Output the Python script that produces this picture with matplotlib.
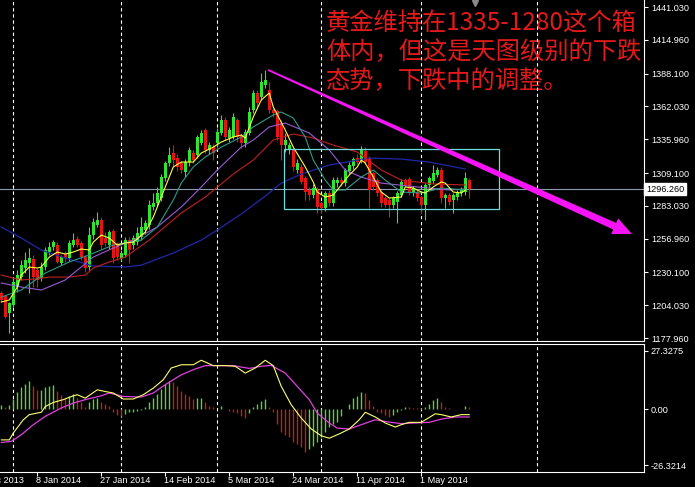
import numpy as np
import matplotlib
matplotlib.use("Agg")
import matplotlib.pyplot as plt
from matplotlib.patches import Rectangle, Polygon
from matplotlib.transforms import IdentityTransform

plt.rcParams['font.family'] = ['Liberation Sans', 'DejaVu Sans']

# daily gold bars (Sunday bars included), bar 0 = 29 Dec 2013, bar 117 = 15 May 2014
open_ = [1213.7, 1211.3, 1197.8, 1204.1, 1218.4, 1226.4, 1233.6, 1237.5, 1240.7, 1232.0,
         1225.6, 1234.4, 1246.3, 1250.2, 1251.8, 1237.5, 1244.7, 1241.5, 1251.8, 1256.6,
         1253.4, 1242.3, 1234.4, 1259.8, 1267.7, 1271.7, 1257.4, 1251.8, 1263.0, 1251.8,
         1241.5, 1243.9, 1255.8, 1251.8, 1254.2, 1258.2, 1263.8, 1267.7, 1282.0, 1285.3,
         1289.2, 1305.1, 1317.0, 1325.0, 1321.0, 1317.0, 1309.9, 1317.8, 1325.0, 1323.4,
         1332.9, 1343.3, 1327.4, 1329.7, 1332.9, 1340.9, 1351.2, 1336.9, 1337.7, 1351.2,
         1339.3, 1332.9, 1340.9, 1359.2, 1372.7, 1369.5, 1379.0, 1375.1, 1359.2, 1358.4,
         1348.8, 1331.3, 1327.0, 1327.4, 1311.5, 1313.9, 1305.1, 1295.6, 1291.6, 1295.6,
         1285.3, 1281.3, 1293.2, 1285.3, 1301.1, 1303.5, 1301.1, 1310.7, 1314.6, 1321.0,
         1319.4, 1326.6, 1321.0, 1309.1, 1303.5, 1294.0, 1289.2, 1287.6, 1283.6, 1286.0,
         1291.6, 1303.5, 1304.3, 1293.2, 1294.0, 1290.0, 1283.6, 1299.5, 1302.7, 1307.5,
         1311.5, 1289.2, 1291.6, 1287.6, 1290.0, 1293.2, 1294.0, 1303.5]
high_ = [1215.3, 1212.0, 1206.5, 1226.4, 1232.0, 1239.9, 1246.0, 1249.4, 1243.9, 1234.0,
         1238.0, 1250.2, 1254.0, 1256.0, 1254.0, 1244.0, 1247.0, 1256.2, 1261.4, 1259.0,
         1255.0, 1244.0, 1266.2, 1273.3, 1278.1, 1274.0, 1262.0, 1263.8, 1265.0, 1254.0,
         1248.0, 1258.0, 1258.0, 1260.0, 1266.2, 1274.0, 1272.0, 1287.6, 1293.0, 1298.0,
         1308.0, 1319.0, 1329.7, 1331.3, 1324.0, 1319.0, 1320.0, 1330.0, 1327.0, 1339.3,
         1343.3, 1344.9, 1334.0, 1332.0, 1345.0, 1355.2, 1354.0, 1346.0, 1356.8, 1352.8,
         1341.0, 1344.0, 1361.6, 1375.1, 1375.0, 1388.6, 1391.0, 1381.4, 1361.0, 1360.0,
         1351.0, 1341.0, 1334.0, 1329.0, 1320.0, 1316.0, 1307.0, 1298.0, 1300.0, 1298.0,
         1287.0, 1295.0, 1296.0, 1305.9, 1306.0, 1306.0, 1313.0, 1318.0, 1322.0, 1324.0,
         1330.5, 1329.7, 1323.0, 1311.0, 1305.0, 1296.0, 1291.0, 1289.0, 1291.0, 1295.0,
         1304.0, 1305.0, 1306.0, 1299.0, 1296.0, 1292.0, 1301.0, 1307.0, 1315.4, 1313.9,
         1314.0, 1293.0, 1293.0, 1293.0, 1296.0, 1298.0, 1309.9, 1305.0]
low_ = [1206.5, 1193.8, 1181.9, 1203.0, 1214.5, 1224.0, 1229.6, 1213.7, 1218.4, 1218.4,
        1223.0, 1232.0, 1244.0, 1248.0, 1237.5, 1236.0, 1238.0, 1239.0, 1250.0, 1250.0,
        1240.0, 1230.4, 1232.0, 1257.0, 1266.0, 1249.0, 1251.0, 1249.0, 1237.5, 1240.0,
        1239.0, 1242.0, 1237.5, 1249.0, 1252.0, 1256.0, 1261.0, 1265.0, 1280.0, 1283.0,
        1287.0, 1303.0, 1315.0, 1313.9, 1311.0, 1309.0, 1305.9, 1315.0, 1317.0, 1321.0,
        1331.0, 1325.0, 1324.0, 1319.4, 1330.0, 1339.0, 1335.0, 1334.0, 1336.0, 1333.7,
        1329.0, 1330.0, 1339.0, 1357.0, 1361.6, 1367.0, 1377.0, 1357.0, 1354.0, 1335.0,
        1319.4, 1325.8, 1324.0, 1311.0, 1309.0, 1300.0, 1287.6, 1287.6, 1289.0, 1277.3,
        1277.3, 1279.0, 1283.0, 1283.0, 1298.0, 1299.0, 1299.0, 1308.0, 1312.0, 1316.0,
        1317.0, 1316.0, 1281.3, 1296.0, 1291.0, 1282.0, 1282.0, 1274.1, 1281.0, 1269.4,
        1290.0, 1298.0, 1292.0, 1291.0, 1287.0, 1277.3, 1271.7, 1297.0, 1301.0, 1306.0,
        1285.3, 1281.3, 1284.0, 1277.3, 1288.0, 1291.0, 1292.0, 1289.2]
close_ = [1208.1, 1194.6, 1205.7, 1222.4, 1228.0, 1235.9, 1239.9, 1241.5, 1226.4, 1224.0,
          1234.4, 1247.9, 1250.2, 1254.2, 1238.3, 1242.3, 1241.5, 1253.4, 1255.8, 1251.8,
          1242.3, 1233.6, 1259.8, 1270.1, 1271.7, 1251.8, 1253.4, 1262.2, 1241.5, 1242.3,
          1245.5, 1255.8, 1247.9, 1257.4, 1261.4, 1266.2, 1269.3, 1283.6, 1285.0, 1293.2,
          1305.9, 1317.0, 1323.4, 1319.4, 1313.9, 1311.5, 1317.8, 1327.4, 1319.4, 1337.7,
          1340.9, 1327.4, 1331.3, 1325.0, 1341.7, 1351.2, 1337.7, 1343.3, 1353.6, 1337.7,
          1332.9, 1341.7, 1357.6, 1372.7, 1364.7, 1381.4, 1383.0, 1359.2, 1356.8, 1337.7,
          1331.3, 1335.3, 1331.0, 1313.9, 1317.0, 1301.9, 1294.0, 1291.6, 1297.2, 1282.0,
          1281.3, 1293.2, 1285.3, 1303.5, 1303.5, 1301.1, 1311.5, 1315.4, 1320.2, 1317.8,
          1327.4, 1317.8, 1295.6, 1298.0, 1293.2, 1285.3, 1283.6, 1283.6, 1289.2, 1293.2,
          1301.9, 1299.5, 1294.0, 1297.2, 1289.2, 1283.6, 1299.5, 1305.1, 1309.1, 1311.5,
          1289.2, 1291.6, 1286.0, 1291.6, 1294.0, 1295.6, 1305.1, 1296.26]

# moving averages at a few bars
ma_fast_k = [0, 2, 4, 5, 7, 9, 10, 12, 14, 16, 18, 20, 22, 23, 25, 27, 29, 31, 33, 36, 38, 41,
             43, 45, 48, 50, 53, 55, 58, 60, 61, 63, 65, 67, 68, 71, 73, 76, 78, 79, 81, 83,
             85, 87, 89, 90, 91, 93, 95, 97, 100, 101, 103, 105, 106, 108, 110, 111, 113, 115, 116]
ma_fast = [1206.6, 1208.2, 1218.5, 1228.0, 1234.4, 1233.6, 1234.4, 1242.3, 1246.3, 1244.7,
           1246.3, 1248.7, 1247.9, 1254.2, 1259.8, 1257.4, 1251.9, 1253.5, 1254.2, 1262.2,
           1274.1, 1298.0, 1313.9, 1317.8, 1317.8, 1325.0, 1329.7, 1333.7, 1337.7, 1339.3,
           1336.9, 1353.6, 1367.1, 1372.7, 1361.6, 1343.3, 1329.7, 1313.9, 1301.9, 1294.0,
           1290.0, 1291.6, 1299.6, 1307.5, 1313.9, 1319.4, 1317.0, 1305.9, 1294.0, 1289.2,
           1290.0, 1298.0, 1297.2, 1294.0, 1293.2, 1298.0, 1302.0, 1301.1, 1294.0, 1293.2, 1295.6]
ma_teal_k = [0, 5, 11, 17, 22, 28, 35, 39, 43, 45, 48, 51, 55, 60, 63, 68, 70, 73, 76, 78,
             81, 83, 86, 90, 93, 96, 100, 105, 110, 116]
ma_teal = [1210.5, 1216.1, 1229.6, 1238.4, 1244.0, 1251.9, 1255.8, 1266.2, 1287.6, 1301.1,
           1313.9, 1321.8, 1329.7, 1337.7, 1345.7, 1355.2, 1357.6, 1352.8, 1337.7, 1319.4,
           1303.5, 1295.6, 1295.6, 1305.9, 1311.5, 1303.5, 1294.0, 1293.2, 1297.2, 1295.6]
ma_purple_k = [0, 5, 10, 16, 23, 28, 33, 39, 45, 50, 54, 60, 63, 67, 71, 77, 82, 86, 90, 95,
               104, 112, 116]
ma_purple = [1221.7, 1218.5, 1216.1, 1224.1, 1242.3, 1249.5, 1255.8, 1266.2, 1282.1, 1298.0,
             1311.5, 1329.7, 1335.3, 1345.7, 1348.8, 1340.9, 1327.4, 1311.5, 1305.9, 1301.1,
             1298.0, 1295.6, 1296.4]
ma_red_k = [0, 3, 5, 8, 12, 17, 21, 23, 27, 31, 37, 45, 51, 58, 63, 68, 73, 78, 83, 89, 95,
            100, 108, 116]
ma_red = [1228.0, 1225.6, 1224.1, 1224.8, 1226.4, 1226.4, 1228.0, 1233.6, 1238.4, 1242.3,
          1255.8, 1277.3, 1290.0, 1308.3, 1319.4, 1335.3, 1340.1, 1336.9, 1331.3, 1325.8,
          1311.5, 1303.5, 1300.4, 1299.6]
ma_blue_k = [0, 5, 10, 16, 23, 31, 35, 43, 50, 54, 57, 60, 66, 70, 75, 82, 92, 100, 107, 116]
ma_blue = [1266.2, 1257.4, 1247.9, 1241.5, 1235.2, 1234.4, 1235.9, 1245.5, 1255.8, 1263.8,
           1270.2, 1276.5, 1290.8, 1301.1, 1308.3, 1315.4, 1321.0, 1320.2, 1317.8, 1312.3]

price_ticks = [1441.03, 1414.96, 1388.10, 1362.03, 1335.96, 1309.10, 1283.03, 1256.96,
               1230.10, 1204.03, 1177.96]
price_tick_labels = ['1441.030', '1414.960', '1388.100', '1362.030', '1335.960', '1309.100',
                     '1283.030', '1256.960', '1230.100', '1204.030', '1177.960']
last_price = 1296.26

# MACD panel
macd_hist = [1.9, 1.2, 1.9, 4.7, 7.8, 10.1, 11.7, 12.9, 10.9, 9.0,
             9.0, 10.1, 10.9, 11.2, 8.6, 6.5, 5.4, 6.2, 7.0, 5.4,
             3.1, 0.8, 3.1, 4.7, 5.4, 3.1, 2.3, 1.6, -1.6, -2.8,
             -3.4, -2.3, -1.6, -1.2, -0.8, -0.5, 0.8, 3.1, 5.4, 7.0,
             9.3, 11.7, 13.2, 12.8, 10.9, 8.6, 7.0, 6.2, 4.7, 5.0,
             5.2, 3.1, 1.6, 0.8, 0.0, 1.6, 0.0, -1.1, -1.3, -2.0,
             -3.1, -4.4, -2.0, 0.8, 2.3, 3.9, 4.7, 1.2, -1.2, -7.0,
             -10.6, -12.1, -13.2, -15.6, -16.3, -17.9, -20.2, -18.7, -17.1, -15.6,
             -13.2, -10.9, -8.6, -7.0, -6.2, -3.1, 0.0, 2.3, 5.4, 6.2,
             7.8, 7.6, 4.4, 1.6, -1.2, -1.9, -2.8, -3.9, -2.8, -1.6,
             -0.5, 1.1, 0.8, 0.6, 0.5, 0.3, 1.1, 2.6, 4.4, 5.4,
             3.1, 0.8, 0.3, 0.0, 0.0, 0.0, 1.6, 0.8]
macd_k = [0, 2, 3, 5.5, 7, 10, 11, 13, 15.5, 18, 19, 21, 24, 26, 28, 30.5, 33, 35.5, 38, 40.5,
          42.5, 45, 48, 50, 53, 56, 58.5, 61, 63.5, 66, 68, 70, 72.5, 75, 77.5, 80, 82, 84.5,
          87, 89.5, 91, 93.5, 96, 98.5, 100, 102, 105, 108.5, 110, 112.5, 115, 117]
macd_line = [-14.4, -14.4, -11.2, -5.0, -2.6, -1.5, 1.2, 3.1, 4.4, 6.2, 6.7, 5.1, 9.0, 8.2,
             7.5, 4.7, 4.7, 6.7, 9.8, 13.7, 19.2, 20.7, 20.7, 22.8, 20.3, 20.3, 20.0, 16.8,
             19.2, 22.8, 20.3, 10.6, 2.0, -4.2, -9.3, -12.5, -13.6, -11.6, -9.3, -5.0, -1.5,
             -3.7, -6.5, -8.4, -7.3, -6.2, -6.2, -2.2, -2.6, -3.7, -2.6, -2.6]
signal_k = [0, 2.5, 5, 8, 11, 15, 18, 21, 25, 27, 30.5, 35, 38, 41, 45, 48, 51, 55, 58, 62,
            65, 67.5, 71, 74, 77, 79, 82, 84, 87, 90, 93.5, 97, 100, 103.5, 107, 110, 113.5, 117]
signal_line = [-15.6, -15.1, -12.0, -7.3, -3.4, 0.5, 2.8, 4.4, 6.2, 7.5, 5.9, 5.6, 7.5, 11.4,
               16.0, 18.4, 20.3, 20.3, 20.3, 19.0, 20.0, 20.4, 16.8, 10.6, 4.4, -1.9, -6.5,
               -8.9, -9.3, -7.3, -5.0, -6.1, -6.8, -6.5, -6.2, -4.7, -3.7, -3.7]
macd_ticks = [27.3275, 0.0, -26.3214]
macd_tick_labels = ['27.3275', '0.00', '-26.3214']

date_pos = [-7, 9, 25, 41, 57, 73, 89, 105]
date_labels = ['20 Dec 2013', '8 Jan 2014', '27 Jan 2014', '14 Feb 2014', '5 Mar 2014',
               '24 Mar 2014', '11 Apr 2014', '1 May 2014']
month_lines = [3, 30, 54, 80, 105, 134]

# annotations
box_k = (70.75, 124.4)
box_price = (1280.2, 1327.9)
arrow_from = (66.7, 1391.0)
arrow_to = (157.7, 1260.6)
note_lines = ['黄金维持在1335-1280这个箱', '体内，但这是天图级别的下跌', '态势，下跌中的调整。']

BULL = '#2ee62e'
BEAR = '#e81414'
W, H = 695, 487
XLIM = (-0.325, 160.7)


def style_axis(ax):
    ax.set_facecolor('black')
    for s in ax.spines.values():
        s.set_visible(False)
    ax.spines['right'].set_visible(True)
    ax.spines['right'].set_color('white')
    ax.yaxis.tick_right()
    ax.tick_params(axis='y', colors='white', labelsize=6.6, length=3, width=0.8, pad=2)
    for ml in month_lines:
        ax.axvline(ml, color='white', lw=0.8, ls=(0, (3, 2.5)), zorder=1)


def draw_arrow(ax, p0, p1):
    t = ax.transData
    a = np.array(t.transform(p0))
    b = np.array(t.transform(p1))
    u = (b - a) / np.hypot(*(b - a))
    n = np.array([-u[1], u[0]])
    base = b - u * 19
    pts = [a + n * 0.9, base + n * 3.6, base + n * 8.5, b,
           base - n * 8.5, base - n * 3.6, a - n * 0.9]
    ax.add_patch(Polygon(pts, closed=True, transform=IdentityTransform(),
                         facecolor='#f514f5', edgecolor='none', zorder=6))


fig = plt.figure(figsize=(W / 100, H / 100), dpi=100, facecolor='black')
ax = fig.add_axes([0, 1 - 341 / H, 644 / W, 341 / H])
ax2 = fig.add_axes([0, 1 - 472 / H, 644 / W, 128 / H])

# ---- price panel
style_axis(ax)
ax.spines['bottom'].set_visible(True)
ax.spines['bottom'].set_color('white')
ax.set_xticks([])
ax.set_yticks(price_ticks + [last_price])
ax.set_yticklabels(price_tick_labels + [''])
ax.set_xlim(*XLIM)
ax.set_ylim(1175.6, 1446.6)

o = np.array(open_)
c = np.array(close_)
k = np.arange(len(o))
cols = [BULL if cc >= oo else BEAR for oo, cc in zip(o, c)]
ax.vlines(k, low_, high_, colors=cols, lw=0.8, zorder=2)
ax.bar(k, np.maximum(np.abs(c - o), 0.4), bottom=np.minimum(o, c), width=0.72,
       color=cols, linewidth=0, zorder=3)

ax.plot(ma_blue_k, ma_blue, color='#2028a8', lw=0.9, zorder=4)
ax.plot(ma_red_k, ma_red, color='#c02020', lw=0.8, zorder=4)
ax.plot(ma_purple_k, ma_purple, color='#9a5ad6', lw=0.8, zorder=4)
ax.plot(ma_teal_k, ma_teal, color='#2f9a88', lw=0.8, zorder=4)
ax.plot(ma_fast_k, ma_fast, color='#ffff40', lw=0.8, zorder=4)

ax.axhline(last_price, color='#8c9cac', lw=0.8, zorder=1)
ax.text(1.003, last_price, '1296.260', transform=ax.get_yaxis_transform(), ha='left',
        va='center', fontsize=6.6, color='black', clip_on=False,
        bbox=dict(boxstyle='square,pad=0.18', facecolor='white', edgecolor='white'))

ax.add_patch(Rectangle((box_k[0], box_price[0]), box_k[1] - box_k[0],
                       box_price[1] - box_price[0], fill=False, edgecolor='#6cdcdc',
                       lw=0.9, zorder=5))
draw_arrow(ax, arrow_from, arrow_to)

ax.plot([len(o) + 0.5], [1 - 3 / 341], marker='v', ms=5, color='#8a8a8a',
        transform=ax.get_xaxis_transform(), clip_on=False, zorder=7)

# note text sits under the dashed grid, as in the terminal
for i, line in enumerate(note_lines):
    ax.text(326 / W, 1 - (24 + 28.5 * i) / H, line, color='#e41a1a', fontsize=17.5,
            family=['Noto Sans CJK SC', 'DejaVu Sans'], ha='left', va='center',
            transform=fig.transFigure, zorder=0.5, clip_on=False)

# ---- MACD panel
style_axis(ax2)
for s in ('top', 'bottom'):
    ax2.spines[s].set_visible(True)
    ax2.spines[s].set_color('white')
ax2.set_yticks(macd_ticks)
ax2.set_yticklabels(macd_tick_labels)

h = np.array(macd_hist)
hcols = ['#5ad23c' if i == 0 or h[i] >= h[i - 1] else '#b4261c' for i in range(len(h))]
ax2.vlines(np.arange(len(h)), 0, h, colors=hcols, lw=1.0, zorder=2)
ax2.plot(signal_k, signal_line, color='#e040e0', lw=0.9, zorder=3)
ax2.plot(macd_k, macd_line, color='#ffff70', lw=0.8, zorder=4)

ax2.set_xticks(date_pos)
ax2.set_xticklabels([])
ax2.tick_params(axis='x', colors='white', length=3, width=0.8)
for pos, lab in zip(date_pos, date_labels):
    ax2.text(pos - 0.4, -0.065, lab, transform=ax2.get_xaxis_transform(), ha='left',
             va='center', color='white', fontsize=6.6, clip_on=False)
ax2.set_xlim(*XLIM)
ax2.set_ylim(-29.4, 30.4)

fig.savefig('out.png', dpi=100, facecolor='black')
